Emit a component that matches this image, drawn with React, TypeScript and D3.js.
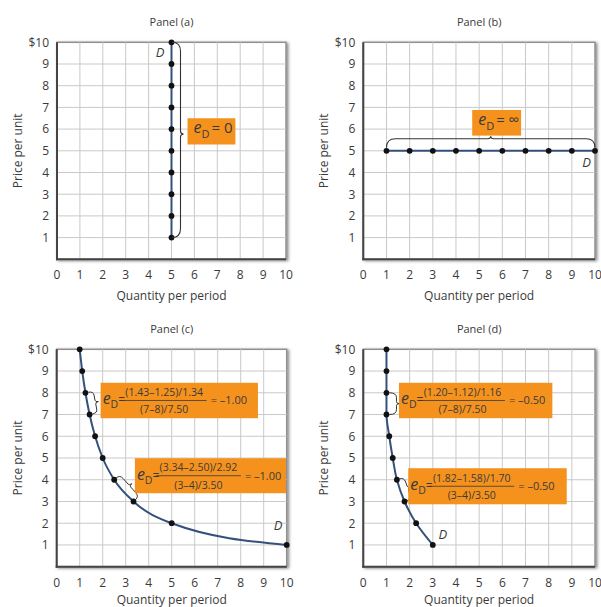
import React from "react";
import * as d3 from "d3";

// ---------- data ----------
const panelTitles = ["Panel (a)", "Panel (b)", "Panel (c)", "Panel (d)"];
const xTickValues = [0, 1, 2, 3, 4, 5, 6, 7, 8, 9, 10];
const xTickLabels = ["0", "1", "2", "3", "4", "5", "6", "7", "8", "9", "10"];
const yTickValues = [1, 2, 3, 4, 5, 6, 7, 8, 9, 10];
const yTickLabels = ["1", "2", "3", "4", "5", "6", "7", "8", "9", "$10"];
const xAxisTitle = "Quantity per period";
const yAxisTitle = "Price per unit";

// panel (a): perfectly inelastic
const priceA = [10, 9, 8, 7, 6, 5, 4, 3, 2, 1];
const qtyA = [5, 5, 5, 5, 5, 5, 5, 5, 5, 5];
// panel (b): perfectly elastic
const priceB = [5, 5, 5, 5, 5, 5, 5, 5, 5, 5];
const qtyB = [1, 2, 3, 4, 5, 6, 7, 8, 9, 10];
// panel (c): unit elastic
const priceC = [10, 9, 8, 7, 6, 5, 4, 3, 2, 1];
const qtyC = [1, 1.11, 1.25, 1.43, 1.67, 2, 2.5, 3.34, 5, 10];
// panel (d): elasticity -0.50
const priceD = [10, 9, 8, 7, 6, 5, 4, 3, 2, 1];
const qtyD = [1.0, 1.0, 1.0, 1.0, 1.12, 1.27, 1.45, 1.78, 2.28, 3.0];

// annotation texts
const labelA = "0";
const labelB = "\u221E";
const fracC = [
  { num: "(1.43\u20131.25)/1.34", den: "(7\u20138)/7.50", res: "= \u20131.00" },
  { num: "(3.34\u20132.50)/2.92", den: "(3\u20134)/3.50", res: "= \u20131.00" },
];
const fracD = [
  { num: "(1.20\u20131.12)/1.16", den: "(7\u20138)/7.50", res: "= \u20130.50" },
  { num: "(1.82\u20131.58)/1.70", den: "(3\u20134)/3.50", res: "= \u20130.50" },
];

// ---------- layout ----------
const W = 601;
const H = 607;
const FONT = "'Open Sans', 'DejaVu Sans', sans-serif";
const ORANGE = "#f5921e";
const LINE = "#34507c";
const TXT = "#3a3a3a";

type Layout = { left: number; right: number; top: number; bottom: number; xTitleDy: number };
const layouts: Layout[] = [
  { left: 57, right: 286, top: 42.3, bottom: 259.3, xTitleDy: 41 },
  { left: 363.3, right: 595, top: 42.3, bottom: 259.3, xTitleDy: 41 },
  { left: 56.7, right: 286.7, top: 349.3, bottom: 566.7, xTitleDy: 37 },
  { left: 363.3, right: 595, top: 349.3, bottom: 566.7, xTitleDy: 37 },
];

function makeScales(l: Layout) {
  const x = d3.scaleLinear().domain([0, 10]).range([l.left, l.right]);
  const y = d3.scaleLinear().domain([0, 10]).range([l.bottom, l.top]);
  return { x, y };
}

function bracePath(
  p1: [number, number],
  p2: [number, number],
  s: number,
  hf: number,
  h: number,
  t = 0.5,
  rEnd = 6,
  rTip = 3
) {
  const dx = p2[0] - p1[0];
  const dy = p2[1] - p1[1];
  const L = Math.hypot(dx, dy);
  const ux = dx / L;
  const uy = dy / L;
  const nx = uy;
  const ny = -ux;
  const P = (u: number, v: number) =>
    `${(p1[0] + u * ux + v * nx).toFixed(2)},${(p1[1] + u * uy + v * ny).toFixed(2)}`;
  const m = t * L;
  const re = Math.min(rEnd, m / 2, (L - m) / 2);
  const rt = Math.min(rTip, m / 3, (L - m) / 3);
  return `M${P(0, s)} Q${P(0, s + hf)} ${P(re, s + hf)} L${P(m - rt, s + hf)} Q${P(m, s + hf)} ${P(
    m,
    s + h
  )} Q${P(m, s + hf)} ${P(m + rt, s + hf)} L${P(L - re, s + hf)} Q${P(L, s + hf)} ${P(L, s)}`;
}

function Frame({ l, title }: { l: Layout; title: string }) {
  const { x, y } = makeScales(l);
  const cx = (l.left + l.right) / 2;
  const cy = (l.top + l.bottom) / 2;
  return (
    <g>
      <text x={cx} y={l.top - 16} textAnchor="middle" fontSize={11} fill={TXT} fontFamily={FONT}>
        {title}
      </text>
      <rect
        x={l.left}
        y={l.top}
        width={l.right - l.left}
        height={l.bottom - l.top}
        fill="#fff"
        stroke="#8f8f8f"
        strokeWidth={1.5}
        filter="url(#shadow)"
      />
      {xTickValues.slice(1, -1).map((v) => (
        <line key={"gx" + v} x1={x(v)} x2={x(v)} y1={l.top} y2={l.bottom} stroke="#c9c9c9" strokeWidth={1} />
      ))}
      {yTickValues.slice(0, -1).map((v) => (
        <line key={"gy" + v} x1={l.left} x2={l.right} y1={y(v)} y2={y(v)} stroke="#c9c9c9" strokeWidth={1} />
      ))}
      <line x1={l.left} x2={l.left} y1={l.top} y2={l.bottom + 1} stroke="#444" strokeWidth={2} />
      <line x1={l.left - 1} x2={l.right} y1={l.bottom} y2={l.bottom} stroke="#444" strokeWidth={2} />
      {yTickValues.map((v, i) => (
        <text
          key={"yl" + v}
          x={l.left - 8}
          y={y(v) + 4.3}
          textAnchor="end"
          fontSize={12}
          fill={TXT}
          fontFamily={FONT}
        >
          {yTickLabels[i]}
        </text>
      ))}
      {xTickValues.map((v, i) => (
        <text key={"xl" + v} x={x(v)} y={l.bottom + 20} textAnchor="middle" fontSize={12} fill={TXT} fontFamily={FONT}>
          {xTickLabels[i]}
        </text>
      ))}
      <text x={cx} y={l.bottom + l.xTitleDy} textAnchor="middle" fontSize={12} fill={TXT} fontFamily={FONT}>
        {xAxisTitle}
      </text>
      <text
        transform={`translate(${l.left - 35},${cy}) rotate(-90)`}
        textAnchor="middle"
        fontSize={12}
        fill={TXT}
        fontFamily={FONT}
      >
        {yAxisTitle}
      </text>
    </g>
  );
}

function Series({
  l,
  qty,
  price,
  curve,
}: {
  l: Layout;
  qty: number[];
  price: number[];
  curve: d3.CurveFactory;
}) {
  const { x, y } = makeScales(l);
  const pts: [number, number][] = qty.map((q, i) => [q, price[i]]);
  const line = d3
    .line<[number, number]>()
    .x((d) => x(d[0]))
    .y((d) => y(d[1]))
    .curve(curve);
  return (
    <g>
      <path d={line(pts) || ""} fill="none" stroke={LINE} strokeWidth={2} />
      {pts.map((d, i) => (
        <circle key={i} cx={x(d[0])} cy={y(d[1])} r={2.9} fill="#111" />
      ))}
    </g>
  );
}

function SimpleBox({
  x0,
  y0,
  x1,
  y1,
  value,
}: {
  x0: number;
  y0: number;
  x1: number;
  y1: number;
  value: string;
}) {
  const mid = (y0 + y1) / 2;
  return (
    <g>
      <rect x={x0} y={y0} width={x1 - x0} height={y1 - y0} fill={ORANGE} />
      <text x={x0 + 6} y={mid + 2} fontFamily={FONT} fill={TXT}>
        <tspan fontSize={16} fontStyle="italic">
          e
        </tspan>
        <tspan fontSize={11} dy={5}>
          D
        </tspan>
        <tspan fontSize={15} dy={-5} dx={2}>
          {"= " + value}
        </tspan>
      </text>
    </g>
  );
}

function FracBox({
  x0,
  y0,
  x1,
  y1,
  num,
  den,
  res,
}: {
  x0: number;
  y0: number;
  x1: number;
  y1: number;
  num: string;
  den: string;
  res: string;
}) {
  const mid = (y0 + y1) / 2;
  const fx0 = x0 + 21;
  const fx1 = x0 + 106;
  const fc = (fx0 + fx1) / 2;
  return (
    <g fontFamily={FONT} fill={TXT}>
      <rect x={x0} y={y0} width={x1 - x0} height={y1 - y0} fill={ORANGE} />
      <text x={x0 + 2} y={mid + 4}>
        <tspan fontSize={16} fontStyle="italic">
          e
        </tspan>
        <tspan fontSize={10.5} dy={4}>
          D
        </tspan>
        <tspan fontSize={12} dy={-4}>
          =
        </tspan>
      </text>
      <text x={fc} y={mid - 4.5} textAnchor="middle" fontSize={10.5}>
        {num}
      </text>
      <line x1={fx0} x2={fx1} y1={mid} y2={mid} stroke={TXT} strokeWidth={0.8} />
      <text x={fc} y={mid + 13} textAnchor="middle" fontSize={10.5}>
        {den}
      </text>
      <text x={x0 + 110} y={mid + 4} fontSize={11}>
        {res}
      </text>
    </g>
  );
}

function DLabel({ x, y }: { x: number; y: number }) {
  return (
    <text x={x} y={y} textAnchor="middle" fontSize={13} fontStyle="italic" fill={TXT} fontFamily={FONT}>
      D
    </text>
  );
}

export default function App() {
  const [la, lb, lc, ld] = layouts;
  const sa = makeScales(la);
  const sb = makeScales(lb);
  const sc = makeScales(lc);
  const sd = makeScales(ld);
  const pt = (s: { x: d3.ScaleLinear<number, number>; y: d3.ScaleLinear<number, number> }, q: number, p: number) =>
    [s.x(q), s.y(p)] as [number, number];

  return (
    <div style={{ position: "absolute", left: 0, top: 0, width: W, height: H, background: "#fff" }}>
      <svg width={W} height={H} viewBox={`0 0 ${W} ${H}`}>
        <defs>
          <filter id="shadow" x="-10%" y="-10%" width="120%" height="120%">
            <feDropShadow dx={1.5} dy={1} stdDeviation={1.6} floodColor="#000" floodOpacity={0.5} />
          </filter>
        </defs>
        <rect width={W} height={H} fill="#fff" />
        {layouts.map((l, i) => (
          <Frame key={i} l={l} title={panelTitles[i]} />
        ))}

        {/* Panel (a) */}
        <Series l={la} qty={qtyA} price={priceA} curve={d3.curveLinear} />
        <path
          d={bracePath(pt(sa, qtyA[0], priceA[0]), pt(sa, qtyA[9], priceA[9]), 0.5, 8.5, 11.5, 0.47, 9, 3)}
          fill="none"
          stroke="#333"
          strokeWidth={1.1}
        />
        <SimpleBox x0={sa.x(5.7)} y0={sa.y(6.5)} x1={sa.x(7.79)} y1={sa.y(5.29)} value={labelA} />
        <DLabel x={sa.x(4.5)} y={sa.y(9.5) + 4} />

        {/* Panel (b) */}
        <Series l={lb} qty={qtyB} price={priceB} curve={d3.curveLinear} />
        <path
          d={bracePath(pt(sb, qtyB[0], priceB[0]), pt(sb, qtyB[9], priceB[9]), 3, 9, 11.5, 0.5, 9, 3)}
          fill="none"
          stroke="#333"
          strokeWidth={1.1}
        />
        <SimpleBox x0={sb.x(4.7)} y0={sb.y(6.88)} x1={sb.x(6.81)} y1={sb.y(5.7)} value={labelB} />
        <DLabel x={sb.x(9.64)} y={sb.y(4.44) + 4} />

        {/* Panel (c) */}
        <Series l={lc} qty={qtyC} price={priceC} curve={d3.curveMonotoneX} />
        <path
          d={bracePath(pt(sc, qtyC[2], priceC[2]), pt(sc, qtyC[3], priceC[3]), 3, 5, 8, 0.5, 4, 2)}
          fill="none"
          stroke="#333"
          strokeWidth={1}
        />
        <path
          d={bracePath(pt(sc, qtyC[6], priceC[6]), pt(sc, qtyC[7], priceC[7]), 2.5, 5, 8, 0.5, 5, 2)}
          fill="none"
          stroke="#333"
          strokeWidth={1}
        />
        <FracBox x0={sc.x(1.91)} y0={sc.y(8.46)} x1={sc.x(8.75)} y1={sc.y(6.83)} {...fracC[0]} />
        <FracBox x0={sc.x(3.4)} y0={sc.y(4.99)} x1={sc.x(9.97)} y1={sc.y(3.38)} {...fracC[1]} />
        <DLabel x={sc.x(9.63)} y={sc.y(1.85) + 4} />

        {/* Panel (d) */}
        <Series l={ld} qty={qtyD} price={priceD} curve={d3.curveMonotoneY} />
        <path
          d={bracePath(pt(sd, qtyD[2], priceD[2]), pt(sd, qtyD[3], priceD[3]), 3, 7, 10, 0.5, 5, 2)}
          fill="none"
          stroke="#333"
          strokeWidth={1}
        />
        <path
          d={bracePath(pt(sd, qtyD[6], priceD[6]), pt(sd, qtyD[7], priceD[7]), 2.5, 5, 8, 0.5, 5, 2)}
          fill="none"
          stroke="#333"
          strokeWidth={1}
        />
        <FracBox x0={sd.x(1.54)} y0={sd.y(8.46)} x1={sd.x(8.16)} y1={sd.y(6.83)} {...fracD[0]} />
        <FracBox x0={sd.x(1.94)} y0={sd.y(4.53)} x1={sd.x(8.78)} y1={sd.y(2.87)} {...fracD[1]} />
        <DLabel x={sd.x(3.43)} y={sd.y(1.46) + 4} />
      </svg>
    </div>
  );
}
